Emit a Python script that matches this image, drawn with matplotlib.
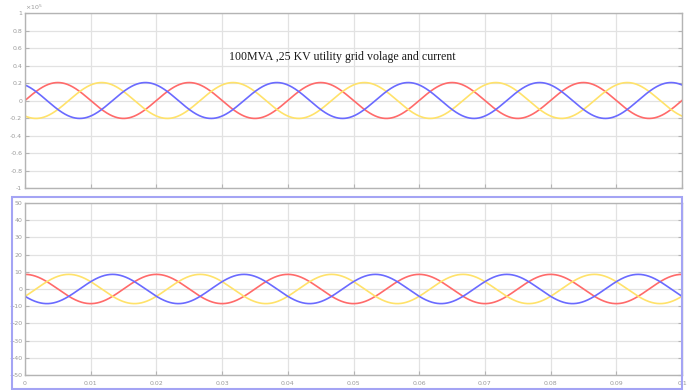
import numpy as np
import matplotlib
matplotlib.use("Agg")
import matplotlib.pyplot as plt
from matplotlib.patches import Rectangle

# ---- data ----
title_text = "100MVA ,25 KV utility grid volage and current"
freq_hz = 50.0                     # 5 cycles in 0.1 s
t_end = 0.1
# voltage (x10^5): amplitude and phase (deg) of sin for each phase
v_amp = 0.205
v_phase_deg = [0, -120, 120]       # red, yellow, blue
# current (A): amplitude and phase (deg) of sin
i_amp = 8.5
i_phase_deg = [90, -30, 210]       # red, yellow, blue
phase_colors = ["#ff6a6a", "#ffe26a", "#6a6aff"]

v_yticks = [-1, -0.8, -0.6, -0.4, -0.2, 0, 0.2, 0.4, 0.6, 0.8, 1]
v_yticklabels = ["-1", "-0.8", "-0.6", "-0.4", "-0.2", "0", "0.2", "0.4", "0.6", "0.8", "1"]
i_yticks = [-50, -40, -30, -20, -10, 0, 10, 20, 30, 40, 50]
x_ticks = [0, 0.01, 0.02, 0.03, 0.04, 0.05, 0.06, 0.07, 0.08, 0.09, 0.1]
x_ticklabels = ["0", "0.01", "0.02", "0.03", "0.04", "0.05", "0.06", "0.07", "0.08", "0.09", "0.1"]

W, H = 693, 390
fig = plt.figure(figsize=(W / 100, H / 100), dpi=100)
fig.patch.set_facecolor("white")

def ax_rect(l, t, r, b):
    return [l / W, 1 - b / H, (r - l) / W, (b - t) / H]

t = np.linspace(0, t_end, 2000)
w = 2 * np.pi * freq_hz

spine_c = "#b4b4b4"
grid_c = "#e2e2e2"
lab_c = "#9a9a9a"

def style(ax):
    for s in ax.spines.values():
        s.set_color(spine_c)
        s.set_linewidth(1.0)
    ax.grid(True, color=grid_c, linewidth=0.9)
    ax.set_axisbelow(True)
    ax.tick_params(axis="both", colors=spine_c, labelcolor=lab_c, labelsize=4.5,
                   length=3, width=0.8, direction="in", right=True, top=False, pad=2)
    ax.set_xlim(0, t_end)
    ax.set_xticks(x_ticks)

# top axes: voltage
ax1 = fig.add_axes(ax_rect(25, 13, 682, 188))
style(ax1)
for ph, c in zip(v_phase_deg, phase_colors):
    ax1.plot(t, v_amp * np.sin(w * t + np.deg2rad(ph)), color=c, lw=1.2)
ax1.set_ylim(-1, 1)
ax1.set_yticks(v_yticks)
ax1.set_yticklabels(v_yticklabels)
ax1.set_xticklabels([])
ax1.text(0.0, 1.005, r"$\times10^5$", transform=ax1.transAxes, fontsize=4.5,
         color=lab_c, ha="left", va="bottom")
ax1.text(342 / W, 1 - 57 / H, title_text, transform=fig.transFigure,
         fontsize=8.6, family="Liberation Serif", color="#1a1a1a",
         ha="center", va="center")

# bottom axes: current
ax2 = fig.add_axes(ax_rect(25, 203, 682, 375))
style(ax2)
for ph, c in zip(i_phase_deg, phase_colors):
    ax2.plot(t, i_amp * np.sin(w * t + np.deg2rad(ph)), color=c, lw=1.2)
ax2.set_ylim(-50, 50)
ax2.set_yticks(i_yticks)
ax2.set_xticklabels(x_ticklabels)
ax2.tick_params(axis="x", pad=4)

# blue selection frame around lower panel
fig.patches.append(Rectangle((12 / W, 1 - 389 / H), (682 - 12) / W, (389 - 197) / H,
                             transform=fig.transFigure, fill=False,
                             edgecolor="#a4a4f4", linewidth=1.5))

fig.savefig("out.png", dpi=100)
